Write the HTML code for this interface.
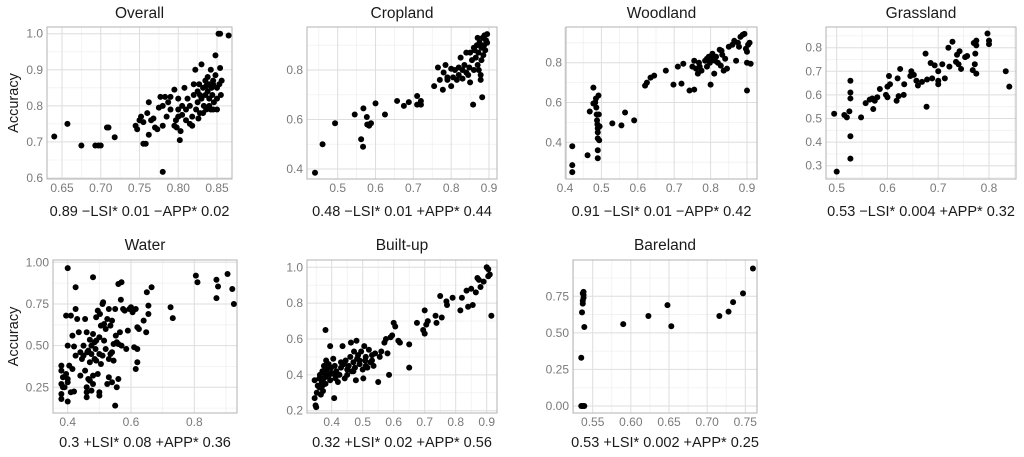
<!DOCTYPE html>
<html><head><meta charset="utf-8">
<style>
html,body{margin:0;padding:0;background:#fff;}
svg{display:block;font-family:"Liberation Sans",Arial,sans-serif;}
</style></head>
<body>
<svg id="chart" width="1024" height="457" viewBox="0 0 1024 457"></svg>
<script>
// ---------- data ----------
const panelTitles = ["Overall","Cropland","Woodland","Grassland","Water","Built-up","Bareland"];
const formulas = ["0.89 \u2212LSI* 0.01 \u2212APP* 0.02","0.48 \u2212LSI* 0.01 +APP* 0.44","0.91 \u2212LSI* 0.01 \u2212APP* 0.42","0.53 \u2212LSI* 0.004 +APP* 0.32","0.3 +LSI* 0.08 +APP* 0.36","0.32 +LSI* 0.02 +APP* 0.56","0.53 +LSI* 0.002 +APP* 0.25"];

const overallPoints = [[0.64,0.715],[0.657,0.75],[0.675,0.69],[0.693,0.69],[0.697,0.69],[0.70,0.69],[0.708,0.74],[0.71,0.74],[0.718,0.713],[0.745,0.745],[0.747,0.735],[0.75,0.76],[0.752,0.77],[0.755,0.695],[0.758,0.695],[0.755,0.755],[0.76,0.78],[0.762,0.81],[0.762,0.72],[0.765,0.76],[0.768,0.765],[0.77,0.74],[0.773,0.735],[0.775,0.795],[0.777,0.825],[0.78,0.745],[0.78,0.80],[0.78,0.617],[0.783,0.825],[0.785,0.77],[0.787,0.81],[0.79,0.79],[0.795,0.845],[0.795,0.745],[0.797,0.76],[0.798,0.74],[0.80,0.79],[0.80,0.82],[0.802,0.705],[0.803,0.73],[0.805,0.775],[0.805,0.80],[0.808,0.85],[0.81,0.79],[0.81,0.76],[0.812,0.82],[0.815,0.75],[0.815,0.80],[0.818,0.77],[0.82,0.83],[0.82,0.86],[0.822,0.90],[0.823,0.79],[0.825,0.81],[0.825,0.84],[0.827,0.86],[0.828,0.78],[0.83,0.82],[0.83,0.915],[0.832,0.85],[0.833,0.80],[0.835,0.87],[0.835,0.83],[0.836,0.79],[0.838,0.88],[0.838,0.84],[0.84,0.86],[0.84,0.82],[0.84,0.80],[0.842,0.90],[0.843,0.85],[0.844,0.83],[0.845,0.87],[0.845,0.79],[0.846,0.81],[0.848,0.94],[0.848,0.885],[0.85,0.85],[0.85,0.82],[0.85,0.79],[0.852,1.0],[0.854,1.0],[0.853,0.86],[0.854,0.905],[0.855,0.83],[0.856,0.87],[0.865,0.995],[0.826,0.765],[0.818,0.745],[0.80,0.77],[0.79,0.825],[0.832,0.78],[0.845,0.86],[0.836,0.855],[0.842,0.79],[0.828,0.83]];

const croplandPoints = [[0.44,0.385],[0.46,0.50],[0.493,0.585],[0.545,0.62],[0.562,0.52],[0.567,0.49],[0.568,0.645],[0.577,0.61],[0.578,0.58],[0.583,0.575],[0.588,0.585],[0.60,0.665],[0.625,0.62],[0.657,0.675],[0.675,0.655],[0.688,0.67],[0.71,0.695],[0.71,0.66],[0.72,0.66],[0.72,0.675],[0.755,0.735],[0.765,0.81],[0.77,0.76],[0.778,0.72],[0.78,0.79],[0.785,0.82],[0.79,0.77],[0.79,0.76],[0.80,0.735],[0.80,0.805],[0.81,0.80],[0.815,0.76],[0.82,0.78],[0.825,0.85],[0.83,0.80],[0.83,0.765],[0.835,0.82],[0.84,0.79],[0.84,0.87],[0.845,0.78],[0.848,0.81],[0.85,0.75],[0.855,0.84],[0.858,0.66],[0.86,0.80],[0.862,0.88],[0.865,0.85],[0.868,0.90],[0.87,0.82],[0.872,0.87],[0.875,0.91],[0.878,0.76],[0.878,0.78],[0.88,0.84],[0.88,0.89],[0.882,0.69],[0.883,0.93],[0.885,0.86],[0.887,0.90],[0.888,0.94],[0.89,0.88],[0.892,0.92],[0.895,0.945],[0.895,0.91],[0.873,0.80],[0.86,0.89],[0.87,0.93],[0.85,0.87],[0.82,0.81],[0.805,0.77]];

const woodlandPoints = [[0.42,0.38],[0.42,0.285],[0.42,0.25],[0.462,0.335],[0.468,0.555],[0.478,0.675],[0.478,0.595],[0.483,0.60],[0.485,0.62],[0.486,0.575],[0.487,0.54],[0.488,0.51],[0.489,0.49],[0.49,0.47],[0.49,0.45],[0.49,0.42],[0.49,0.36],[0.49,0.32],[0.492,0.635],[0.493,0.54],[0.494,0.41],[0.495,0.48],[0.53,0.495],[0.555,0.485],[0.565,0.55],[0.59,0.51],[0.62,0.685],[0.625,0.70],[0.635,0.725],[0.645,0.735],[0.677,0.76],[0.698,0.69],[0.71,0.78],[0.72,0.695],[0.725,0.795],[0.742,0.66],[0.75,0.78],[0.755,0.665],[0.755,0.81],[0.76,0.77],[0.765,0.745],[0.768,0.80],[0.77,0.78],[0.775,0.76],[0.785,0.81],[0.79,0.78],[0.795,0.83],[0.798,0.80],[0.80,0.69],[0.803,0.82],[0.805,0.845],[0.81,0.745],[0.812,0.81],[0.815,0.83],[0.82,0.80],[0.825,0.865],[0.828,0.785],[0.832,0.84],[0.836,0.76],[0.84,0.82],[0.845,0.77],[0.85,0.88],[0.86,0.89],[0.865,0.91],[0.87,0.81],[0.875,0.90],[0.878,0.88],[0.882,0.93],[0.888,0.94],[0.893,0.945],[0.897,0.87],[0.9,0.855],[0.9,0.80],[0.9,0.66],[0.903,0.89],[0.907,0.90],[0.91,0.795],[0.83,0.86],[0.79,0.82]];

const grasslandPoints = [[0.495,0.52],[0.50,0.275],[0.515,0.515],[0.52,0.505],[0.525,0.53],[0.527,0.66],[0.527,0.61],[0.527,0.585],[0.527,0.425],[0.527,0.33],[0.548,0.505],[0.557,0.565],[0.565,0.58],[0.57,0.585],[0.572,0.54],[0.575,0.575],[0.58,0.59],[0.585,0.625],[0.597,0.60],[0.60,0.59],[0.60,0.635],[0.603,0.68],[0.605,0.645],[0.618,0.575],[0.62,0.67],[0.622,0.595],[0.625,0.71],[0.632,0.60],[0.633,0.645],[0.645,0.68],[0.647,0.70],[0.652,0.685],[0.657,0.66],[0.66,0.64],[0.668,0.655],[0.675,0.775],[0.677,0.55],[0.678,0.665],[0.685,0.735],[0.688,0.67],[0.693,0.725],[0.70,0.70],[0.70,0.66],[0.70,0.645],[0.708,0.73],[0.713,0.67],[0.72,0.80],[0.722,0.72],[0.728,0.825],[0.735,0.74],[0.737,0.77],[0.74,0.73],[0.742,0.785],[0.745,0.71],[0.753,0.76],[0.757,0.765],[0.768,0.705],[0.77,0.82],[0.772,0.73],[0.773,0.775],[0.775,0.83],[0.775,0.81],[0.775,0.69],[0.797,0.86],[0.80,0.83],[0.80,0.815],[0.833,0.70],[0.84,0.635]];

const waterPoints = [[0.40,0.965],[0.48,0.91],[0.425,0.85],[0.56,0.87],[0.57,0.88],[0.568,0.775],[0.65,0.82],[0.665,0.85],[0.805,0.92],[0.81,0.88],[0.87,0.895],[0.875,0.855],[0.87,0.785],[0.905,0.93],[0.92,0.84],[0.925,0.75],[0.725,0.73],[0.732,0.665],[0.395,0.68],[0.41,0.68],[0.425,0.72],[0.43,0.66],[0.415,0.56],[0.40,0.50],[0.42,0.495],[0.435,0.58],[0.425,0.44],[0.44,0.46],[0.445,0.42],[0.45,0.44],[0.455,0.66],[0.46,0.58],[0.462,0.46],[0.47,0.535],[0.475,0.50],[0.48,0.57],[0.485,0.52],[0.488,0.48],[0.49,0.67],[0.495,0.71],[0.50,0.55],[0.502,0.69],[0.505,0.62],[0.51,0.75],[0.512,0.76],[0.515,0.63],[0.52,0.60],[0.525,0.66],[0.53,0.72],[0.535,0.62],[0.54,0.65],[0.545,0.51],[0.55,0.72],[0.552,0.56],[0.555,0.52],[0.56,0.51],[0.565,0.58],[0.57,0.50],[0.575,0.72],[0.58,0.71],[0.585,0.48],[0.59,0.59],[0.595,0.72],[0.60,0.73],[0.605,0.70],[0.61,0.49],[0.615,0.72],[0.62,0.48],[0.62,0.61],[0.625,0.60],[0.615,0.36],[0.62,0.40],[0.64,0.65],[0.648,0.58],[0.655,0.69],[0.655,0.74],[0.38,0.38],[0.38,0.35],[0.385,0.31],[0.38,0.27],[0.385,0.25],[0.38,0.21],[0.38,0.18],[0.39,0.25],[0.395,0.33],[0.40,0.30],[0.40,0.28],[0.40,0.165],[0.405,0.38],[0.41,0.22],[0.42,0.225],[0.415,0.36],[0.44,0.32],[0.455,0.35],[0.46,0.25],[0.46,0.22],[0.46,0.19],[0.465,0.30],[0.47,0.40],[0.47,0.29],[0.475,0.23],[0.48,0.32],[0.48,0.27],[0.485,0.42],[0.49,0.41],[0.495,0.33],[0.5,0.22],[0.5,0.20],[0.505,0.39],[0.51,0.44],[0.52,0.48],[0.525,0.27],[0.53,0.31],[0.535,0.45],[0.54,0.28],[0.545,0.41],[0.55,0.14],[0.555,0.25],[0.56,0.30],[0.49,0.53],[0.475,0.45],[0.465,0.47],[0.45,0.50],[0.5,0.45],[0.515,0.53],[0.53,0.42],[0.54,0.46]];

const builtupPoints = [[0.345,0.37],[0.345,0.27],[0.348,0.23],[0.35,0.22],[0.352,0.30],[0.355,0.34],[0.36,0.38],[0.36,0.33],[0.362,0.40],[0.365,0.29],[0.368,0.36],[0.37,0.42],[0.372,0.31],[0.375,0.45],[0.375,0.38],[0.378,0.41],[0.38,0.65],[0.38,0.35],[0.382,0.48],[0.385,0.43],[0.388,0.39],[0.39,0.46],[0.392,0.40],[0.395,0.56],[0.395,0.37],[0.398,0.44],[0.40,0.41],[0.405,0.49],[0.408,0.27],[0.41,0.45],[0.412,0.38],[0.415,0.42],[0.42,0.36],[0.425,0.40],[0.43,0.44],[0.435,0.56],[0.44,0.46],[0.442,0.38],[0.445,0.48],[0.45,0.43],[0.455,0.45],[0.46,0.50],[0.462,0.58],[0.465,0.42],[0.47,0.47],[0.472,0.53],[0.475,0.44],[0.478,0.37],[0.48,0.59],[0.482,0.49],[0.485,0.51],[0.49,0.46],[0.495,0.53],[0.50,0.43],[0.502,0.38],[0.505,0.56],[0.508,0.48],[0.51,0.50],[0.515,0.44],[0.52,0.54],[0.525,0.47],[0.53,0.51],[0.535,0.45],[0.54,0.52],[0.55,0.36],[0.555,0.50],[0.56,0.53],[0.57,0.58],[0.575,0.60],[0.58,0.52],[0.585,0.40],[0.59,0.61],[0.595,0.62],[0.60,0.69],[0.605,0.67],[0.615,0.59],[0.62,0.58],[0.65,0.57],[0.65,0.44],[0.675,0.69],[0.695,0.65],[0.70,0.76],[0.70,0.63],[0.705,0.68],[0.71,0.70],[0.735,0.73],[0.738,0.69],[0.75,0.84],[0.755,0.72],[0.77,0.81],[0.772,0.79],[0.79,0.83],[0.815,0.76],[0.82,0.83],[0.835,0.87],[0.84,0.78],[0.85,0.88],[0.855,0.79],[0.865,0.86],[0.87,0.94],[0.875,0.93],[0.88,0.89],[0.89,0.92],[0.90,1.0],[0.905,0.99],[0.905,0.95],[0.91,0.96],[0.915,0.73],[0.37,0.34],[0.39,0.44],[0.41,0.40],[0.43,0.47],[0.45,0.40],[0.47,0.42],[0.49,0.48],[0.51,0.45],[0.53,0.48]];

const barelandPoints = [[0.535,0.0],[0.537,0.0],[0.539,0.0],[0.535,0.33],[0.536,0.64],[0.537,0.70],[0.537,0.72],[0.538,0.74],[0.538,0.76],[0.538,0.78],[0.537,0.77],[0.539,0.54],[0.59,0.56],[0.623,0.615],[0.648,0.69],[0.653,0.545],[0.716,0.615],[0.728,0.645],[0.734,0.71],[0.747,0.77],[0.76,0.94]];

const xTickValues = [[0.65,0.70,0.75,0.80,0.85],[0.5,0.6,0.7,0.8,0.9],[0.4,0.5,0.6,0.7,0.8,0.9],[0.5,0.6,0.7,0.8],[0.4,0.6,0.8],[0.4,0.5,0.6,0.7,0.8,0.9],[0.55,0.60,0.65,0.70,0.75]];
const xTickLabels = [["0.65","0.70","0.75","0.80","0.85"],["0.5","0.6","0.7","0.8","0.9"],["0.4","0.5","0.6","0.7","0.8","0.9"],["0.5","0.6","0.7","0.8"],["0.4","0.6","0.8"],["0.4","0.5","0.6","0.7","0.8","0.9"],["0.55","0.60","0.65","0.70","0.75"]];
const yTickValues = [[0.6,0.7,0.8,0.9,1.0],[0.4,0.6,0.8],[0.4,0.6,0.8],[0.3,0.4,0.5,0.6,0.7,0.8],[0.25,0.5,0.75,1.0],[0.2,0.4,0.6,0.8,1.0],[0,0.25,0.5,0.75]];
const yTickLabels = [["0.6","0.7","0.8","0.9","1.0"],["0.4","0.6","0.8"],["0.4","0.6","0.8"],["0.3","0.4","0.5","0.6","0.7","0.8"],["0.25","0.50","0.75","1.00"],["0.2","0.4","0.6","0.8","1.0"],["0.00","0.25","0.50","0.75"]];

// ---------- layout (pixel geometry, not data) ----------
const layout = [
 {l:47,r:232,t:27,b:179, xa:[0.65,62],xb:[0.85,217], ya:[1.0,33.7],yb:[0.6,178], ylab:true, row:0},
 {l:307,r:497,t:27,b:179, xa:[0.5,337.7],xb:[0.9,489], ya:[0.8,70],yb:[0.4,169], row:0},
 {l:566,r:757,t:27,b:179, xa:[0.4,565],xb:[0.9,747], ya:[0.8,62.7],yb:[0.4,142.3], row:0},
 {l:826,r:1016,t:27,b:179, xa:[0.5,836.7],xb:[0.8,989], ya:[0.8,47.7],yb:[0.3,165.7], row:0},
 {l:53,r:237,t:260,b:413, xa:[0.4,67.7],xb:[0.8,194.3], ya:[1.0,262.3],yb:[0.25,387.3], ylab:true, row:1},
 {l:307,r:497,t:260,b:413, xa:[0.4,331.7],xb:[0.9,486.7], ya:[1.0,267.3],yb:[0.2,410.7], row:1},
 {l:573,r:757,t:260,b:413, xa:[0.55,592.7],xb:[0.75,745.3], ya:[0.75,296.3],yb:[0,406], row:1}
];
const allPoints = [overallPoints,croplandPoints,woodlandPoints,grasslandPoints,waterPoints,builtupPoints,barelandPoints];
const titleY = [13,245], formulaY = [211,442];

const NS = "http://www.w3.org/2000/svg";
const svg = document.getElementById("chart");
function mk(tag, attrs, parent){const e=document.createElementNS(NS,tag);for(const k in attrs)e.setAttribute(k,attrs[k]);(parent||svg).appendChild(e);return e;}

layout.forEach((L,i)=>{
  const g = mk("g",{});
  
  
  const sx = v => L.xa[1] + (v - L.xa[0]) * (L.xb[1]-L.xa[1])/(L.xb[0]-L.xa[0]);
  const sy = v => L.ya[1] + (v - L.ya[0]) * (L.yb[1]-L.ya[1])/(L.yb[0]-L.ya[0]);
  const xs = xTickValues[i], ys = yTickValues[i];
  const xstep = xs[1]-xs[0], ystep = ys[1]-ys[0];
  for(let k=-2;k<=xs.length+1;k++){const v=xs[0]+(k+0.5)*xstep;const p=sx(v);if(p>L.l&&p<L.r)mk("line",{x1:p,x2:p,y1:L.t,y2:L.b,stroke:"#f0f0f0","stroke-width":0.8},g);}
  for(let k=-2;k<=ys.length+1;k++){const v=ys[0]+(k+0.5)*ystep;const p=sy(v);if(p>L.t&&p<L.b)mk("line",{x1:L.l,x2:L.r,y1:p,y2:p,stroke:"#f0f0f0","stroke-width":0.8},g);}
  xs.forEach((v,j)=>{const p=sx(v);
    mk("line",{x1:p,x2:p,y1:L.t,y2:L.b,stroke:"#dedede","stroke-width":1},g);
    const t=mk("text",{x:p,y:L.b+13,"text-anchor":"middle","font-size":12,fill:"#7a7a7a"},g);t.textContent=xTickLabels[i][j];
    });
  ys.forEach((v,j)=>{const p=sy(v);
    mk("line",{x1:L.l,x2:L.r,y1:p,y2:p,stroke:"#dedede","stroke-width":1},g);
    const t=mk("text",{x:L.l-4,y:p+4,"text-anchor":"end","font-size":12,fill:"#7a7a7a"},g);t.textContent=yTickLabels[i][j];
    });
  mk("rect",{x:L.l,y:L.t,width:L.r-L.l,height:L.b-L.t,fill:"none",stroke:"#b3b3b3","stroke-width":1},g);
  allPoints[i].forEach(pt=>{
    const c=mk("circle",{cx:sx(pt[0]),cy:sy(pt[1]),r:3,fill:"#000"},g);
    
    
  });
  const title=mk("text",{x:(L.l+L.r)/2,y:titleY[L.row]+5,"text-anchor":"middle","font-size":15.5,fill:"#1a1a1a"},g);
  title.textContent=panelTitles[i];
  
  
  const f=mk("text",{x:(L.l+L.r)/2,y:formulaY[L.row]+5,"text-anchor":"middle","font-size":14.5,fill:"#1a1a1a"},g);
  f.textContent=formulas[i];
  
  
  if(L.ylab){
    const cy=(L.t+L.b)/2;
    const y=mk("text",{x:0,y:0,transform:`translate(18,${cy}) rotate(-90)`,"text-anchor":"middle","font-size":14.5,fill:"#1a1a1a"},g);
    y.textContent="Accuracy";
    
    
  }
});
</script>
</body></html>
